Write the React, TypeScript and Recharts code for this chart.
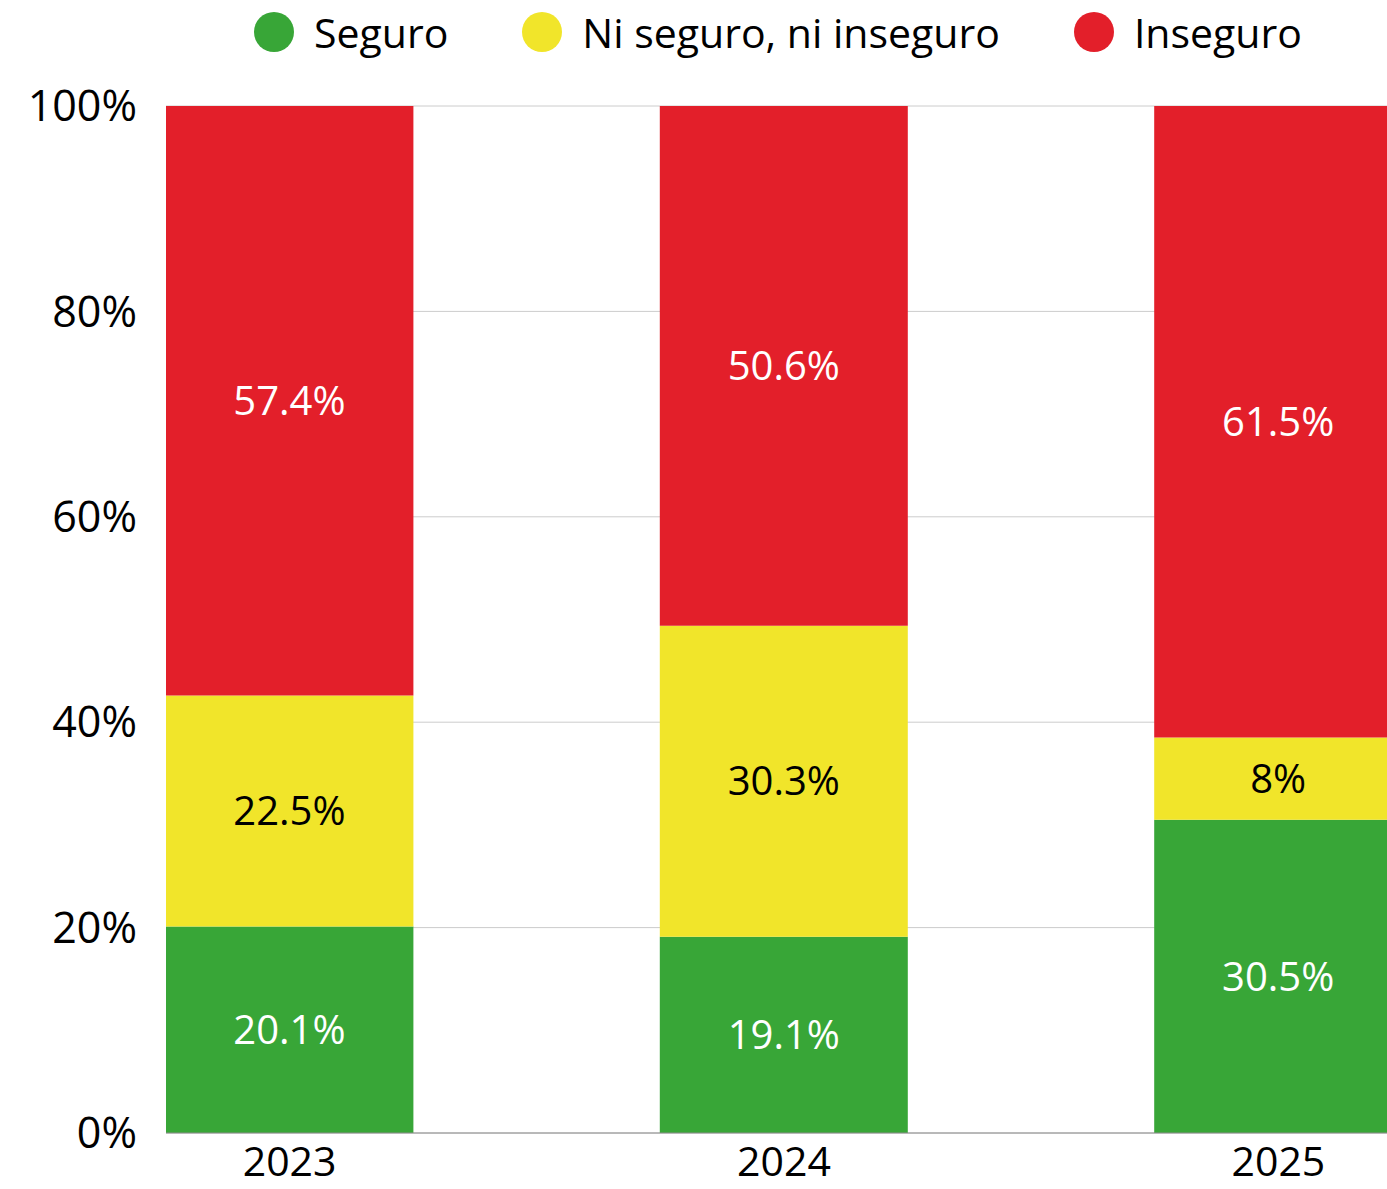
import { BarChart, Bar, XAxis, YAxis, CartesianGrid, Legend, LabelList } from "recharts";

const years = [2023, 2024, 2025];
const seguro = [20.1, 19.1, 30.5];
const neutral = [22.5, 30.3, 8];
const inseguro = [57.4, 50.6, 61.5];
const yTicks = [0, 20, 40, 60, 80, 100];
const legendOrder = ["Seguro", "Ni seguro, ni inseguro", "Inseguro"];

const data = years.map((year, i) => ({
  year,
  seguro: seguro[i],
  neutral: neutral[i],
  inseguro: inseguro[i],
}));

const FONT = "'Open Sans', sans-serif";

const LegendRow = ({ payload }: any) => {
  const items = [...(payload || [])].sort(
    (a: any, b: any) => legendOrder.indexOf(a.value) - legendOrder.indexOf(b.value)
  );
  return (
    <div style={{ display: "flex", alignItems: "center", height: 64, fontFamily: FONT }}>
      {items.map((item: any, i: number) => (
        <div key={i} style={{ display: "flex", alignItems: "center", marginRight: 74 }}>
          <div
            style={{ width: 40, height: 40, borderRadius: "50%", backgroundColor: item.color, marginRight: 20 }}
          ></div>
          <span style={{ fontSize: 41, color: "#000", lineHeight: "40px" }}>{item.value}</span>
        </div>
      ))}
    </div>
  );
};

const App = () => {
  return (
    <div
      style={{
        position: "fixed",
        left: 0,
        top: 0,
        width: 1387,
        height: 1189,
        overflow: "hidden",
        background: "#fff",
        fontFamily: FONT,
      }}
    >
      <BarChart width={1402} height={1189} data={data} margin={{ top: 42, right: 0, bottom: 0, left: 0 }}>
        <CartesianGrid vertical={false} stroke="#cccccc" />
        <Legend
          verticalAlign="top"
          content={<LegendRow />}
          wrapperStyle={{ top: 0, left: 254, width: 1140, height: 64 }}
        />
        <XAxis
          dataKey="year"
          type="number"
          domain={[2022.75, 2025.25]}
          ticks={years}
          interval={0}
          allowDataOverflow
          height={56}
          tickSize={0}
          tickMargin={14}
          stroke="#8c8c8c"
          tick={{ fontSize: 41, fill: "#000", fontFamily: FONT }}
        />
        <YAxis
          type="number"
          domain={[0, 100]}
          ticks={yTicks}
          width={166}
          axisLine={false}
          tickLine={false}
          tickSize={0}
          tickMargin={29}
          tickFormatter={(v) => `${v}%`}
          tick={{ fontSize: 43, fill: "#000", fontFamily: FONT }}
        />
        <Bar dataKey="seguro" name="Seguro" stackId="a" fill="#38a637" barSize={248} isAnimationActive={false}>
          <LabelList
            dataKey="seguro"
            position="center"
            formatter={(v: any) => `${v}%`}
            style={{ fontSize: 40, fill: "#fff", fontFamily: FONT }}
          />
        </Bar>
        <Bar dataKey="neutral" name="Ni seguro, ni inseguro" stackId="a" fill="#f1e52a" barSize={248} isAnimationActive={false}>
          <LabelList
            dataKey="neutral"
            position="center"
            formatter={(v: any) => `${v}%`}
            style={{ fontSize: 40, fill: "#000", fontFamily: FONT }}
          />
        </Bar>
        <Bar dataKey="inseguro" name="Inseguro" stackId="a" fill="#e31f2a" barSize={248} isAnimationActive={false}>
          <LabelList
            dataKey="inseguro"
            position="center"
            formatter={(v: any) => `${v}%`}
            style={{ fontSize: 40, fill: "#fff", fontFamily: FONT }}
          />
        </Bar>
      </BarChart>
    </div>
  );
};

export default App;
